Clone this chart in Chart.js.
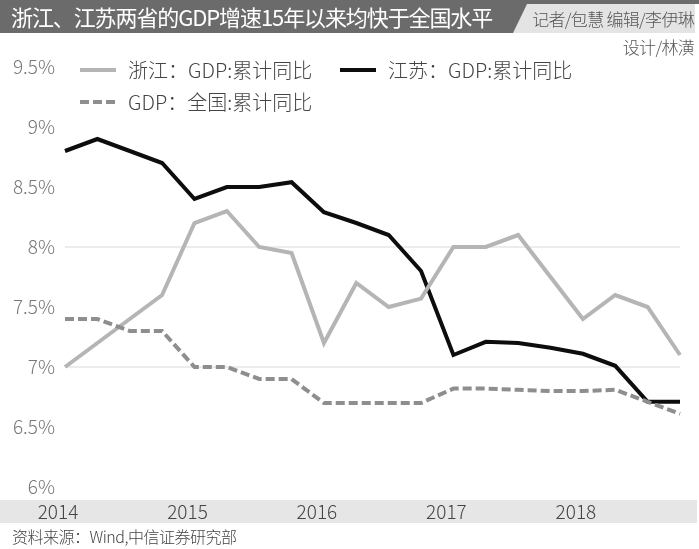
<!DOCTYPE html>
<html><head><meta charset="utf-8">
<script src="https://cdn.jsdelivr.net/npm/chart.js@4/dist/chart.umd.min.js"></script>
<style>
html,body{margin:0;padding:0;background:#fff;}
#wrap{position:relative;width:699px;height:549px;overflow:hidden;font-family:"Noto Sans CJK SC","Noto Sans",sans-serif;}
#topbar{position:absolute;left:0;top:0;width:699px;height:4px;background:#6b6b6b;}
#credbg{position:absolute;left:505px;top:4px;width:190px;height:29px;background:#e4e4e4;}
#titlebg{position:absolute;left:0;top:0;width:529px;height:33px;background:#6b6b6b;clip-path:polygon(0 0,100% 0,513px 100%,0 100%);}
#title{position:absolute;left:11px;top:1px;color:#fff;font-size:22px;line-height:30px;letter-spacing:-1.1px;font-weight:400;white-space:nowrap;}
#cred1{position:absolute;right:5px;top:7px;color:#555;font-size:17px;line-height:24px;letter-spacing:-0.7px;font-weight:300;white-space:nowrap;}
#cred2{position:absolute;right:5px;top:35px;color:#555;font-size:17px;line-height:24px;letter-spacing:-0.7px;font-weight:300;white-space:nowrap;}
#src{position:absolute;left:12px;top:525px;color:#444;font-size:16px;line-height:22px;letter-spacing:-0.5px;font-weight:300;white-space:nowrap;}
#c{position:absolute;left:0;top:0;}
</style></head>
<body><div id="wrap">
<canvas id="c" width="699" height="549"></canvas>
<div id="topbar"></div><div id="credbg"></div><div id="titlebg"></div>
<div id="title">浙江、江苏两省的GDP增速15年以来均快于全国水平</div>
<div id="cred1">记者/包慧&nbsp;编辑/李伊琳</div>
<div id="cred2">设计/林潢</div>
<div id="src">资料来源：Wind,中信证券研究部</div>
</div>
<script>
const quarters = ['2014Q1','2014Q2','2014Q3','2014Q4','2015Q1','2015Q2','2015Q3','2015Q4','2016Q1','2016Q2','2016Q3','2016Q4','2017Q1','2017Q2','2017Q3','2017Q4','2018Q1','2018Q2','2018Q3','2018Q4'];
const yearLabels = {0:'2014',4:'2015',8:'2016',12:'2017',16:'2018'};
const zhejiang = [7.0,7.2,7.4,7.6,8.2,8.3,8.0,7.95,7.2,7.7,7.5,7.57,8.0,8.0,8.1,7.75,7.4,7.6,7.5,7.1];
const jiangsu = [8.8,8.9,8.8,8.7,8.4,8.5,8.5,8.54,8.29,8.2,8.1,7.8,7.1,7.21,7.2,7.16,7.11,7.01,6.71,6.71];
const national = [7.4,7.4,7.3,7.3,7.0,7.0,6.9,6.9,6.7,6.7,6.7,6.7,6.82,6.82,6.81,6.8,6.8,6.81,6.71,6.61];
const yTicks = [6,6.5,7,7.5,8,8.5,9,9.5];
const gridValues = [7,8];
const seriesNames = ['浙江：GDP:累计同比','江苏：GDP:累计同比','GDP：全国:累计同比'];

const FONT = '"Noto Sans CJK SC","Noto Sans",sans-serif';

const bandPlugin = {
  id:'band',
  beforeDraw(chart){
    const {ctx, chartArea} = chart;
    ctx.save();
    ctx.fillStyle = '#e6e6e6';
    ctx.fillRect(0, chartArea.bottom + 13, 697, 23);
    ctx.restore();
  }
};
const legendPlugin = {
  id:'customLegend',
  afterDraw(chart){
    const {ctx} = chart;
    const pos = [[80,70],[340,70],[80,102]];
    ctx.save();
    chart.data.datasets.forEach((ds,i)=>{
      const [x,y] = pos[i];
      ctx.strokeStyle = ds.borderColor;
      ctx.lineWidth = 4;
      ctx.setLineDash(ds.borderDash || []);
      ctx.lineCap = 'butt';
      ctx.beginPath(); ctx.moveTo(x,y); ctx.lineTo(x+36,y); ctx.stroke();
      ctx.setLineDash([]);
      ctx.fillStyle = '#444';
      ctx.font = '300 20px ' + FONT;
      ctx.textBaseline = 'middle';
      ctx.fillText(ds.label, x+48, y);
    });
    ctx.restore();
  }
};

new Chart(document.getElementById('c'), {
  type:'line',
  data:{
    labels: quarters,
    datasets:[
      {label:seriesNames[0], data:zhejiang, borderColor:'#b5b5b5', borderWidth:4, pointRadius:0, tension:0, order:2},
      {label:seriesNames[1], data:jiangsu, borderColor:'#0d0d0d', borderWidth:4, pointRadius:0, tension:0, order:3},
      {label:seriesNames[2], data:national, borderColor:'#8e8e8e', borderWidth:4, borderDash:[9,4], pointRadius:0, tension:0, order:1}
    ]
  },
  options:{
    responsive:false, animation:false,
    layout:{padding:{left:0,right:19,top:67,bottom:0}},
    plugins:{legend:{display:false}, tooltip:{enabled:false}},
    scales:{
      x:{
        offset:false,
        grid:{display:false, drawTicks:false},
        border:{display:false},
        afterFit(s){ s.height = 62; },
        ticks:{
          autoSkip:false, maxRotation:0, minRotation:0, padding:13, labelOffset:-7,
          color:'#444', font:{family:FONT, size:19, weight:'300'},
          callback(v, i){ return yearLabels[i] !== undefined ? yearLabels[i] : ''; }
        }
      },
      y:{
        min:6, max:9.5,
        afterFit(s){ s.width = 65; },
        afterBuildTicks(s){ s.ticks = yTicks.map(v=>({value:v})); },
        border:{display:false},
        grid:{drawTicks:false, lineWidth:2, color(ctx){ return gridValues.includes(ctx.tick && ctx.tick.value) ? '#ececec' : 'rgba(0,0,0,0)'; }},
        ticks:{
          padding:10, color:'#777', font:{family:FONT, size:19, weight:'300'},
          callback(v){ return v + '%'; }
        }
      }
    }
  },
  plugins:[bandPlugin, legendPlugin]
});
</script>
</body></html>
